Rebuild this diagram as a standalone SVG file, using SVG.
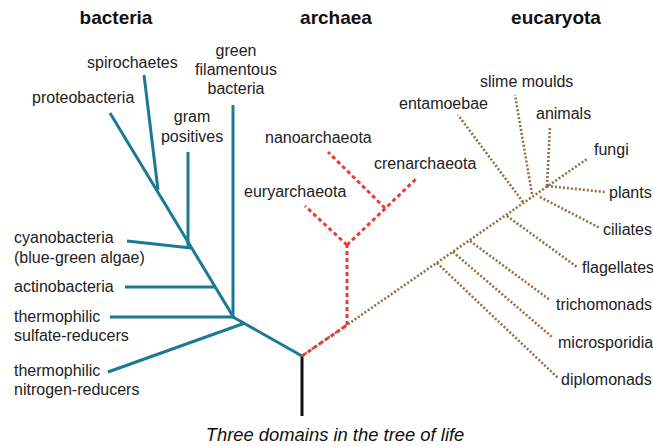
<svg xmlns="http://www.w3.org/2000/svg" width="653" height="446" viewBox="0 0 653 446">
<style>
text{font-family:"Liberation Sans",Arial,sans-serif;font-size:16px;fill:#222}
.h{font-weight:bold;font-size:19px;fill:#111;text-anchor:middle}
.c{font-style:italic;font-size:18.4px;fill:#111;text-anchor:middle}
.m{text-anchor:middle}
.bac{stroke:#1b7a91;stroke-width:3;fill:none;stroke-linecap:butt}
.arc{stroke:#ee3b35;stroke-width:3;fill:none;stroke-dasharray:4 3}
.euk{stroke:#94703f;stroke-width:2.6;fill:none;stroke-dasharray:2 2}
.root{stroke:#111;stroke-width:3;fill:none}
</style>
<rect width="653" height="446" fill="#fff"/>
<g id="headers">
<text class="h" x="116" y="24">bacteria</text>
<text class="h" x="336" y="24">archaea</text>
<text class="h" x="556" y="24">eucaryota</text>
</g>
<g id="connectors">
<line class="root" x1="302" y1="356" x2="302" y2="416"/>
<g id="bacteria-lines">
<line class="bac" x1="110" y1="113" x2="234" y2="318"/>
<line class="bac" x1="144" y1="75" x2="158" y2="190"/>
<line class="bac" x1="188" y1="152" x2="188" y2="246"/>
<line class="bac" x1="233" y1="105" x2="233" y2="318"/>
<line class="bac" x1="127" y1="241" x2="191" y2="248"/>
<line class="bac" x1="125" y1="287" x2="216" y2="287"/>
<line class="bac" x1="110" y1="317" x2="234" y2="317"/>
<line class="bac" x1="108" y1="372" x2="245" y2="323"/>
<line class="bac" x1="233" y1="317" x2="302" y2="356"/>
</g>
<g id="eucaryota-lines">
<line class="euk" x1="302" y1="356" x2="587" y2="159"/>
<line class="euk" x1="437" y1="263" x2="558" y2="378"/>
<line class="euk" x1="453" y1="252" x2="552" y2="337"/>
<line class="euk" x1="470" y1="241" x2="550" y2="300"/>
<line class="euk" x1="507" y1="216" x2="577" y2="267"/>
<line class="euk" x1="540" y1="197" x2="600" y2="228"/>
<line class="euk" x1="547" y1="186" x2="605" y2="192"/>
<line class="euk" x1="547" y1="186" x2="550" y2="127"/>
<line class="euk" x1="532" y1="194" x2="515" y2="95"/>
<line class="euk" x1="523" y1="202" x2="458" y2="115"/>
</g>
<g id="archaea-lines">
<line class="arc" x1="302" y1="356" x2="347" y2="325"/>
<line class="arc" x1="347" y1="325" x2="347" y2="245"/>
<line class="arc" x1="347" y1="245" x2="305" y2="206"/>
<line class="arc" x1="347" y1="245" x2="417" y2="178"/>
<line class="arc" x1="385" y1="208" x2="328" y2="152"/>
</g>
</g>
<g id="bacteria">
<g id="spirochaetes"><text x="87" y="68">spirochaetes</text></g>
<g id="proteobacteria"><text x="32" y="103">proteobacteria</text></g>
<g id="green-filamentous"><text class="m" x="236" y="56">green</text><text class="m" x="236" y="75">filamentous</text><text class="m" x="236" y="94">bacteria</text></g>
<g id="gram-positives"><text class="m" x="192" y="122">gram</text><text class="m" x="192" y="142">positives</text></g>
<g id="cyanobacteria"><text x="14" y="243">cyanobacteria</text><text x="14" y="263">(blue-green algae)</text></g>
<g id="actinobacteria"><text x="14" y="292">actinobacteria</text></g>
<g id="sulfate"><text x="14" y="322">thermophilic</text><text x="14" y="341">sulfate-reducers</text></g>
<g id="nitrogen"><text x="14" y="376">thermophilic</text><text x="14" y="395">nitrogen-reducers</text></g>
</g>
<g id="archaea">
<g id="nanoarchaeota"><text x="265" y="143">nanoarchaeota</text></g>
<g id="crenarchaeota"><text x="374" y="169">crenarchaeota</text></g>
<g id="euryarchaeota"><text x="244" y="197">euryarchaeota</text></g>
</g>
<g id="eucaryota">
<g id="slime"><text x="480" y="87">slime moulds</text></g>
<g id="entamoebae"><text x="399" y="109">entamoebae</text></g>
<g id="animals"><text x="536" y="119">animals</text></g>
<g id="fungi"><text x="594" y="155">fungi</text></g>
<g id="plants"><text x="609" y="198">plants</text></g>
<g id="ciliates"><text x="603" y="235">ciliates</text></g>
<g id="flagellates"><text x="582" y="273">flagellates</text></g>
<g id="trichomonads"><text x="556" y="310">trichomonads</text></g>
<g id="microsporidia"><text x="558" y="348">microsporidia</text></g>
<g id="diplomonads"><text x="561" y="385">diplomonads</text></g>
</g>
<g id="caption"><text class="c" x="335" y="441">Three domains in the tree of life</text></g>
</svg>
